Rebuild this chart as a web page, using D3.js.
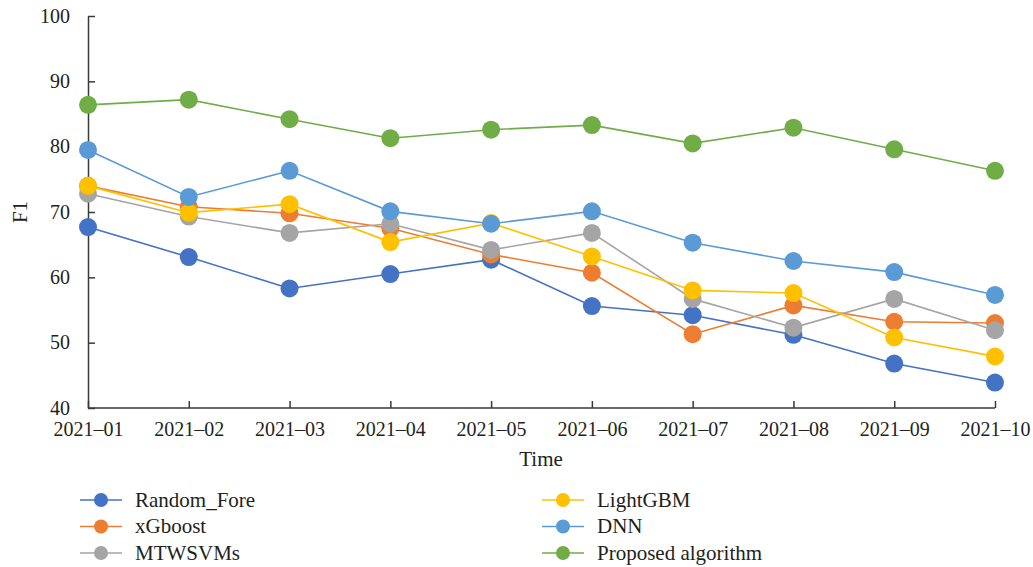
<!DOCTYPE html>
<html>
<head>
<meta charset="utf-8">
<script src="https://cdn.jsdelivr.net/npm/d3@7"></script>
<style>
  html, body { margin: 0; padding: 0; background: #fff; }
  svg { display: block; }
  text { font-family: "Liberation Serif", "DejaVu Serif", serif; fill: #231f20; }
</style>
</head>
<body>
<svg id="chart" width="1033" height="567"></svg>
<script>
// Monthly F1 scores per model
const months = ["2021–01","2021–02","2021–03","2021–04","2021–05","2021–06","2021–07","2021–08","2021–09","2021–10"];
const randomFore = [67.7, 63.1, 58.3, 60.5, 62.7, 55.6, 54.2, 51.2, 46.8, 43.9];
const xgboost    = [74.0, 70.8, 69.8, 67.5, 63.5, 60.7, 51.3, 55.7, 53.2, 53.0];
const mtwsvms    = [72.8, 69.3, 66.8, 68.2, 64.2, 66.8, 56.7, 52.3, 56.7, 51.9];
const lightgbm   = [74.0, 69.9, 71.2, 65.4, 68.3, 63.2, 58.0, 57.6, 50.8, 47.9];
const dnn        = [79.5, 72.3, 76.3, 70.1, 68.2, 70.1, 65.3, 62.5, 60.8, 57.3];
const proposed   = [86.4, 87.2, 84.2, 81.3, 82.6, 83.3, 80.5, 82.9, 79.6, 76.3];
const yTicks = [40, 50, 60, 70, 80, 90, 100];

const series = [
  { name: "Random_Fore", values: randomFore, color: "#4472C4" },
  { name: "xGboost", values: xgboost, color: "#ED7D31" },
  { name: "MTWSVMs", values: mtwsvms, color: "#A5A5A5" },
  { name: "LightGBM", values: lightgbm, color: "#FFC000" },
  { name: "DNN", values: dnn, color: "#5B9BD5" },
  { name: "Proposed algorithm", values: proposed, color: "#70AD47" }
];

const svg = d3.select("#chart");
const plotLeft = 88, plotRight = 995, plotTop = 16, plotBottom = 408;

const x = d3.scalePoint().domain(months).range([plotLeft, plotRight]);
const y = d3.scaleLinear().domain([40, 100]).range([plotBottom, plotTop]);

const axisColor = "#3a3a3a";

// Y axis: ticks point into the plot
const yAxis = svg.append("g")
  .attr("transform", `translate(${plotLeft},0)`)
  .call(d3.axisLeft(y).tickValues(yTicks).tickSizeInner(-7).tickSizeOuter(0).tickPadding(18));
yAxis.select(".domain").attr("stroke", axisColor).attr("stroke-width", 1.5);
yAxis.selectAll(".tick line").attr("stroke", axisColor).attr("stroke-width", 1.5);
yAxis.selectAll(".tick text")
  .attr("font-size", 20).attr("font-family", "Liberation Serif, serif").attr("fill", "#231f20")
  .attr("dy", "0.3em");

// X axis: ticks point up into the plot
const xAxis = svg.append("g")
  .attr("transform", `translate(0,${plotBottom})`)
  .call(d3.axisBottom(x).tickSizeInner(-7).tickSizeOuter(0).tickPadding(9));
xAxis.select(".domain").attr("stroke", axisColor).attr("stroke-width", 1.5)
  .attr("d", `M${plotLeft},0H${plotRight}`);
xAxis.selectAll(".tick line").attr("stroke", axisColor).attr("stroke-width", 1.5);
xAxis.selectAll(".tick text")
  .attr("font-size", 20).attr("font-family", "Liberation Serif, serif").attr("fill", "#231f20")
  .attr("dy", "0.95em");

// Axis titles
svg.append("text")
  .attr("x", 541).attr("y", 466)
  .attr("text-anchor", "middle").attr("font-size", 21)
  .text("Time");
svg.append("text")
  .attr("transform", "translate(27,212) rotate(-90)")
  .attr("text-anchor", "middle").attr("font-size", 21)
  .text("F1");

// Lines and markers
const line = d3.line().x((d, i) => x(months[i])).y(d => y(d));
series.forEach(s => {
  const g = svg.append("g");
  g.append("path")
    .attr("d", line(s.values))
    .attr("fill", "none")
    .attr("stroke", s.color)
    .attr("stroke-width", 1.6);
  g.selectAll("circle")
    .data(s.values)
    .join("circle")
    .attr("cx", (d, i) => x(months[i]))
    .attr("cy", d => y(d))
    .attr("r", 9)
    .attr("fill", s.color);
});

// Legend in two columns of three rows
const legend = svg.append("g");
series.forEach((s, i) => {
  const col = Math.floor(i / 3), row = i % 3;
  const lx = col === 0 ? 80 : 542;
  const ly = 500 + row * 26.5;
  const item = legend.append("g").attr("transform", `translate(${lx},${ly})`);
  item.append("line")
    .attr("x1", 0).attr("x2", 42).attr("y1", 0).attr("y2", 0)
    .attr("stroke", s.color).attr("stroke-width", 1.6);
  item.append("circle").attr("cx", 21).attr("cy", 0).attr("r", 7).attr("fill", s.color);
  item.append("text")
    .attr("x", 55).attr("y", 0).attr("dy", "0.33em")
    .attr("font-size", 21)
    .text(s.name);
});
</script>
</body>
</html>
